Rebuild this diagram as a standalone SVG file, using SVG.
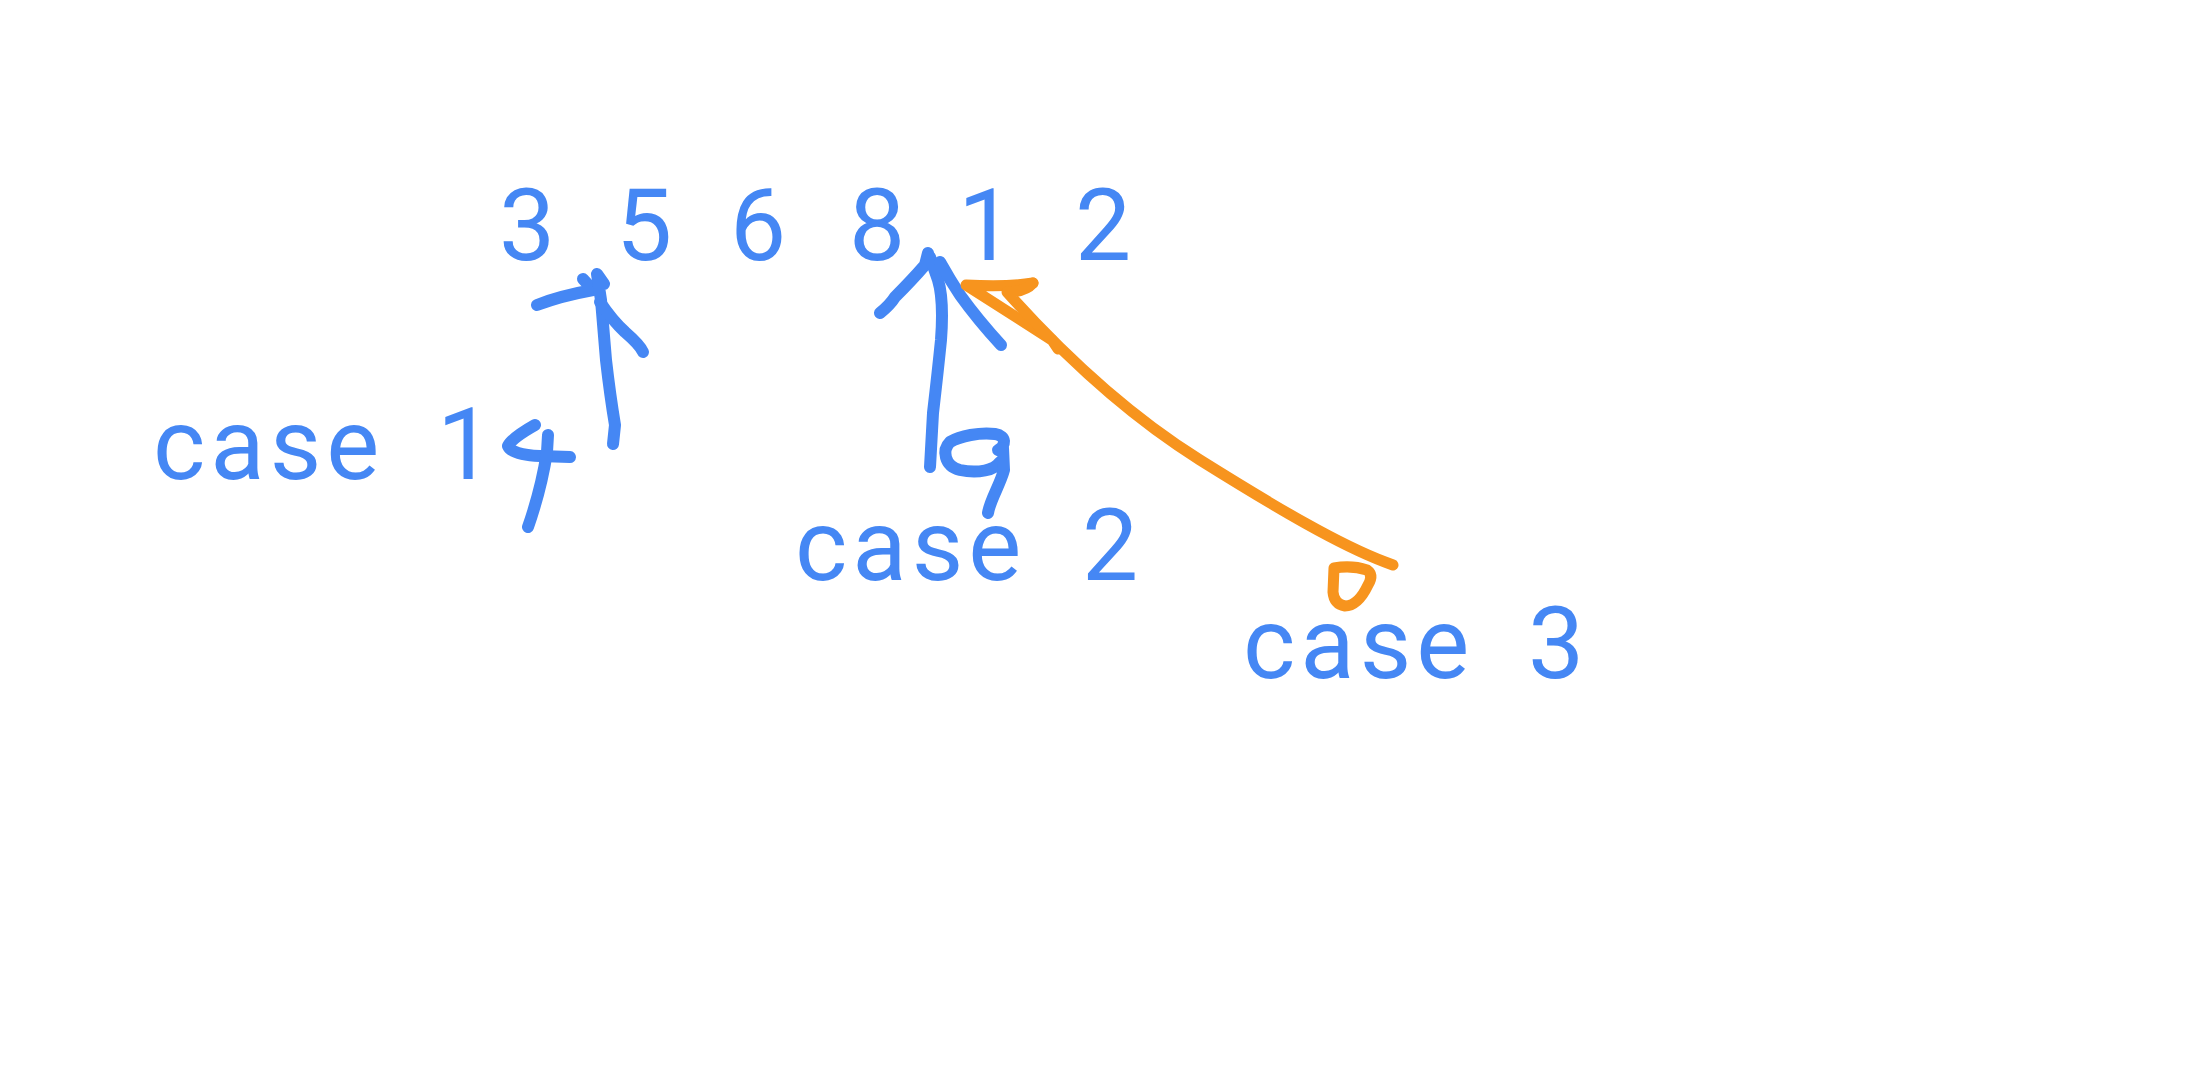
<svg xmlns="http://www.w3.org/2000/svg" width="2190" height="1078" viewBox="0 0 2190 1078">
<style>
.t{font-family:Roboto,"Liberation Sans",sans-serif;font-size:100px;fill:#4587F4;}
.w{letter-spacing:5px;}
.b{fill:none;stroke:#4587F4;stroke-width:12;stroke-linecap:round;stroke-linejoin:round;}
.o{fill:none;stroke:#F7941E;stroke-width:11;stroke-linecap:round;stroke-linejoin:round;}
</style>
<rect width="2190" height="1078" fill="#ffffff"/>
<g id="numbers">
<text class="t" y="260"><tspan x="499">3</tspan> <tspan x="616">5</tspan> <tspan x="730">6</tspan> <tspan x="849">8</tspan> <tspan x="958">1</tspan> <tspan x="1075">2</tspan></text>
</g>
<g id="case1">
<text class="t" y="479"><tspan class="w" x="153">case</tspan> <tspan x="437">1</tspan></text>
<path class="b" d="M535,425 Q512,438 508,446 Q512,455 540,456 L570,457"/>
<path class="b" d="M548,435 L547,452 Q541,490 528,527"/>
</g>
<g id="case2">
<text class="t" y="580"><tspan class="w" x="795">case</tspan> <tspan x="1082">2</tspan></text>
<path class="b" d="M998,450 C1006,446 1007,436 995,434 C980,432 960,436 950,442 C942,450 944,466 960,470 C978,474 995,470 1000,462"/>
<path class="b" d="M1003,448 L1004,470 C1000,485 990,500 988,513"/>
</g>
<g id="case3">
<text class="t" y="678"><tspan class="w" x="1243">case</tspan> <tspan x="1528">3</tspan></text>
<path class="o" d="M1334,568 Q1352,565 1367,570 Q1374,575 1368,585 Q1358,606 1345,606 Q1334,604 1333,592 L1334,568"/>
</g>
<g id="connectors">
<path class="b" d="M537,305 Q560,296 593,290 L583,279"/>
<path class="b" d="M613,444 L615,425 Q610,395 606,360 L601,300 L597,274 L604,284"/>
<path class="b" d="M600,302 Q612,320 625,332 Q640,345 643,352"/>
<path class="b" d="M880,313 Q890,305 895,297 Q912,280 925,265 L928,253"/>
<path class="b" d="M930,467 L933,413 Q938,370 941,340 Q944,300 938,280 L930,257"/>
<path class="b" d="M940,262 Q950,280 960,295 Q978,320 1001,345"/>
<path class="o" d="M1033,283 Q1010,287 966,285 L1052,340 L1058,349"/>
<path class="o" d="M1033,283 Q1025,292 1007,292 C1050,340 1120,410 1200,460 S1340,545 1385,562 L1393,565"/>
</g>
</svg>
